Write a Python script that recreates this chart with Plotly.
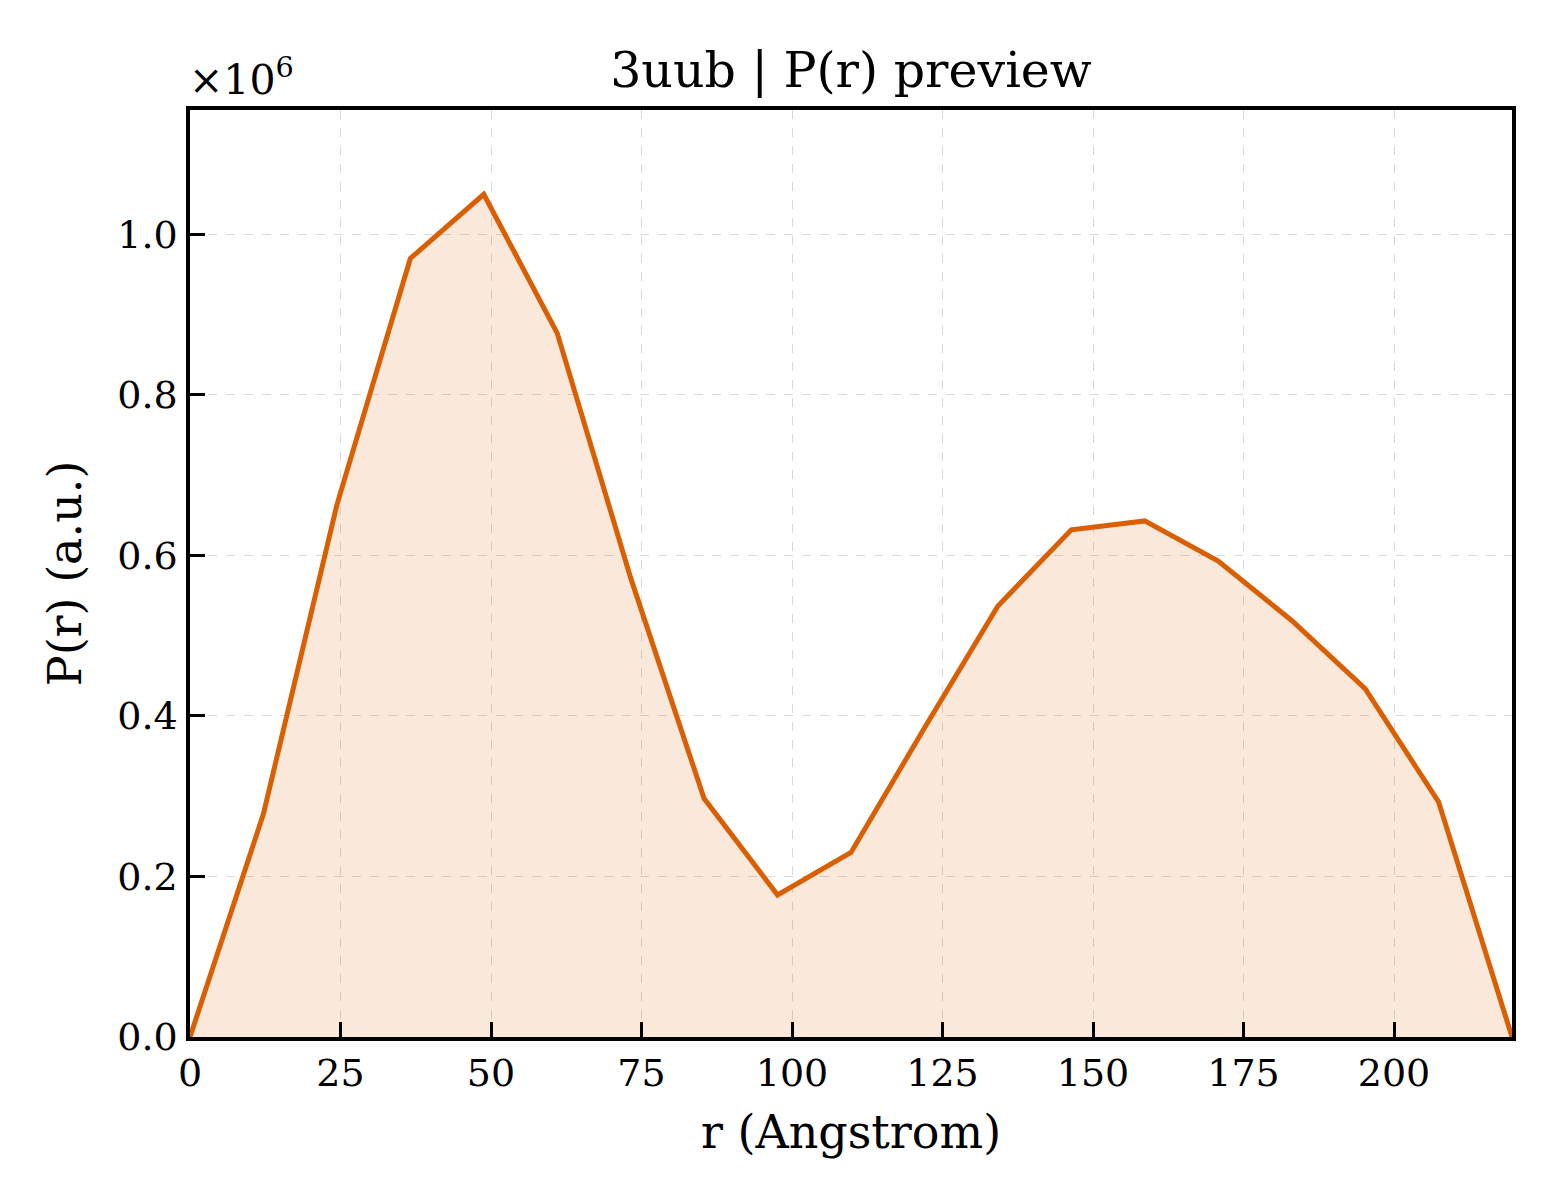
import plotly.graph_objects as go

# P(r) values
r_angstrom = [0.0, 12.2, 24.4, 36.6, 48.8, 61.0, 73.2, 85.4, 97.6, 109.8,
              122.0, 134.2, 146.4, 158.6, 170.8, 183.0, 195.2, 207.4, 219.6]
p_r = [0, 278000, 663000, 970000, 1050000, 877000, 572000, 297000, 177000, 230000,
       385000, 537000, 632000, 643000, 593000, 519000, 434000, 293000, 0]

x_ticks = [0, 25, 50, 75, 100, 125, 150, 175, 200]
y_ticks = [0, 200000, 400000, 600000, 800000, 1000000]
y_tick_text = ["0.0", "0.2", "0.4", "0.6", "0.8", "1.0"]

line_col = "#D95F02"
font_name = "DejaVu Serif"

fig = go.Figure()
fig.add_trace(go.Scatter(
    x=r_angstrom,
    y=p_r,
    mode="lines",
    line=dict(color=line_col, width=5),
    fill="tozeroy",
    fillcolor="rgba(217, 95, 2, 0.14)",
    showlegend=False,
))

axis_common = dict(
    showline=True,
    linecolor="black",
    linewidth=3.5,
    mirror=True,
    ticks="inside",
    ticklen=15,
    tickwidth=3,
    tickcolor="black",
    showgrid=True,
    gridcolor="rgba(180,180,180,0.5)",
    griddash="dash",
    gridwidth=1.3,
    zeroline=False,
    tickfont=dict(family=font_name, size=38, color="black"),
)

fig.update_xaxes(
    axis_common,
    range=[0, 219.6],
    tickvals=x_ticks,
    title=dict(text="r (Angstrom)", font=dict(family=font_name, size=46, color="black"), standoff=22),
    ticklabelstandoff=0,
)
fig.update_yaxes(
    axis_common,
    range=[0, 1155000],
    tickvals=y_ticks,
    ticktext=y_tick_text,
    title=dict(text="P(r) (a.u.)", font=dict(family=font_name, size=46, color="black"), standoff=22),
    ticklabelstandoff=1,
)

fig.add_annotation(
    text="×10<sup>6</sup>",
    xref="paper", yref="paper",
    x=0, y=1,
    xanchor="left", yanchor="bottom",
    showarrow=False,
    xshift=-3,
    yshift=4,
    font=dict(family=font_name, size=41, color="black"),
)

# page body adds ~8px offset, margins compensate for it
fig.update_layout(
    width=1560,
    height=1200,
    margin=dict(l=182, r=56, t=102, b=171),
    paper_bgcolor="white",
    plot_bgcolor="white",
    title=dict(
        text="3uub | P(r) preview",
        x=(182 + (1560 - 56)) / 2 / 1560,
        xref="container",
        xanchor="center",
        y=1 - 62 / 1200,
        yanchor="middle",
        font=dict(family=font_name, size=49, color="black"),
    ),
)

fig.write_html("out.html")
